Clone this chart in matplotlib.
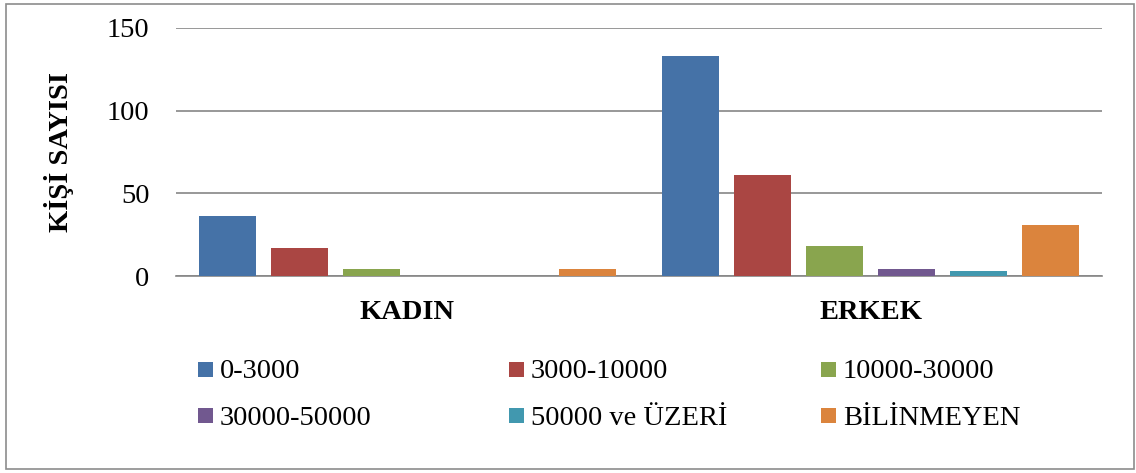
import numpy as np
import matplotlib.pyplot as plt
from matplotlib.patches import Rectangle

plt.rcParams['font.family'] = ['Liberation Serif', 'DejaVu Serif']

groups = ['KADIN', 'ERKEK']
series = ['0-3000', '3000-10000', '10000-30000', '30000-50000', '50000 ve ÜZERİ', 'BİLİNMEYEN']
values = [
    [36, 133],   # 0-3000
    [17, 61],    # 3000-10000
    [4, 18],     # 10000-30000
    [0, 4],      # 30000-50000
    [0, 3],      # 50000 ve ÜZERİ
    [4, 31],     # BİLİNMEYEN
]
colors = ['#4572A7', '#AA4643', '#89A54E', '#71588F', '#4198AF', '#DB843D']
yticks = [0, 50, 100, 150]

W, H = 1136, 473
fig = plt.figure(figsize=(W / 100, H / 100), dpi=100)
ax = fig.add_axes([176 / W, 1 - 276 / H, (1102 - 176) / W, (276 - 28) / H])

x = np.arange(len(groups))
step = 0.1555
bw = 0.125
for i, (name, vals) in enumerate(zip(series, values)):
    ax.bar(x + (i - 2.5) * step, vals, width=bw, color=colors[i], zorder=3)

ax.set_xlim(-0.5, 1.5)
ax.set_ylim(0, 150)
ax.set_yticks(yticks)
ax.set_yticklabels([str(t) for t in yticks], fontsize=20.5)
ax.set_xticks(x)
ax.set_xticklabels(groups, fontsize=20.5, fontweight='bold')
ax.tick_params(axis='y', length=0, pad=19)
ax.tick_params(axis='x', length=0, pad=17)
ax.yaxis.grid(True, color='#868686', linewidth=1.2, zorder=1)
ax.set_axisbelow(True)
for s in ['top', 'right', 'left']:
    ax.spines[s].set_visible(False)
ax.spines['bottom'].set_color('#868686')
ax.spines['bottom'].set_linewidth(1.2)

fig.text(59 / W, 1 - 152 / H, 'KİŞİ SAYISI', rotation=90, ha='center', va='center',
         fontsize=20.5, fontweight='bold')

# legend, laid out row by row like the original
col_x = [198, 509, 821]
row_y = [369, 415]
sq = 15
for i, (name, c) in enumerate(zip(series, colors)):
    cx = col_x[i % 3]
    cy = row_y[i // 3]
    fig.patches.append(Rectangle((cx / W, 1 - (cy + sq / 2) / H), sq / W, sq / H,
                                 transform=fig.transFigure, facecolor=c, edgecolor='none'))
    fig.text((cx + 22) / W, 1 - cy / H, name, ha='left', va='center_baseline', fontsize=20.5)

# outer frame
fig.patches.append(Rectangle((6 / W, 1 - 469 / H), (1134 - 6) / W, (469 - 4) / H,
                             transform=fig.transFigure, facecolor='none',
                             edgecolor='#8c8c8c', linewidth=1.2))

fig.savefig('out.png', dpi=100)
